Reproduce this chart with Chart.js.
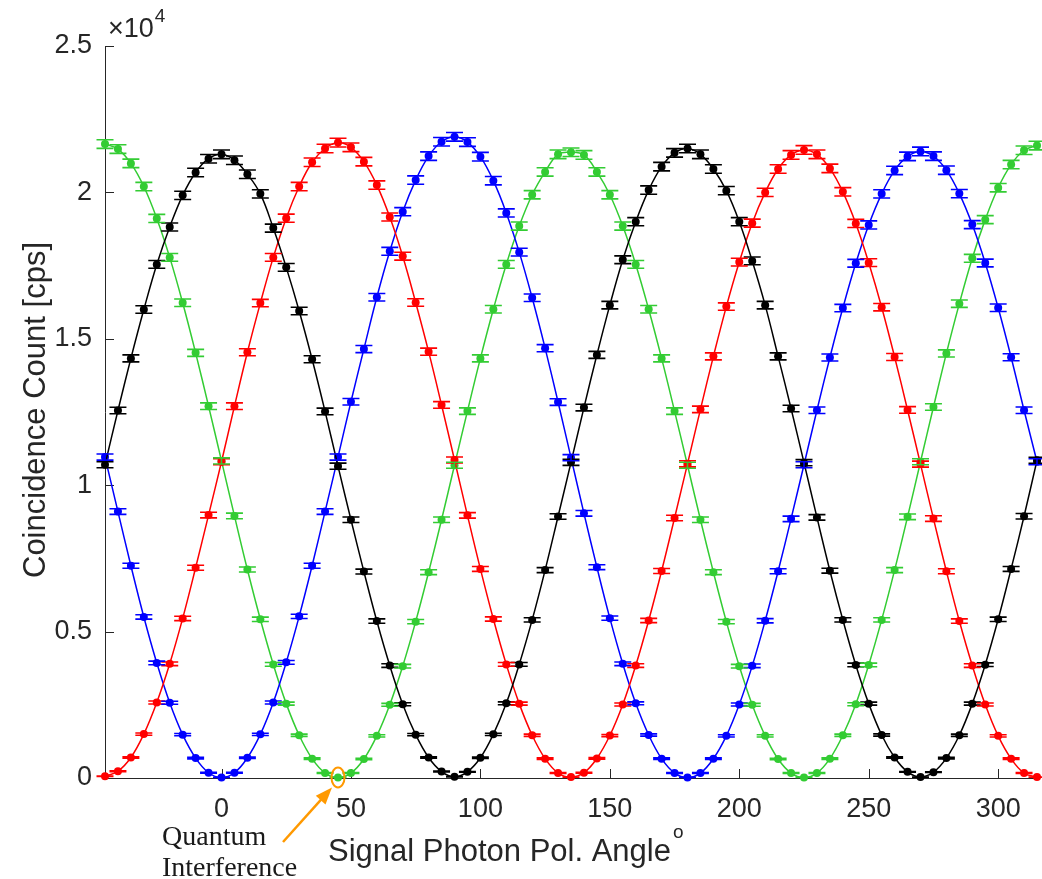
<!DOCTYPE html>
<html>
<head>
  <title>Coincidence Count vs Signal Photon Pol. Angle</title>
  <style>
    body { margin: 0; background: #fff; }
    canvas { display: block; }
  </style>
  <script src="https://cdn.jsdelivr.net/npm/chart.js"></script>
</head>
<body>
  <canvas id="chart" width="1042" height="879"></canvas>
  <script>
    // polarizer angle of the signal photon (degrees)
    const angles = [-45, -40, -35, -30, -25, -20, -15, -10, -5, 0, 5, 10, 15, 20, 25, 30, 35, 40, 45,
      50, 55, 60, 65, 70, 75, 80, 85, 90, 95, 100, 105, 110, 115, 120, 125, 130, 135, 140, 145,
      150, 155, 160, 165, 170, 175, 180, 185, 190, 195, 200, 205, 210, 215, 220, 225, 230, 235,
      240, 245, 250, 255, 260, 265, 270, 275, 280, 285, 290, 295, 300, 305, 310, 315];

    // coincidence counts [cps]
    const black = [10700, 12550, 14330, 16000, 17540, 18820, 19900, 20680, 21150, 21300, 21100, 20620, 19950,
      18780, 17440, 15950, 14300, 12520, 10650, 8820, 7050, 5360, 3840, 2520, 1480, 700, 220, 40,
      210, 690, 1490, 2550, 3880, 5400, 7100, 8930, 10780, 12650, 14450, 16150, 17700, 19000, 20080,
      20880, 21350, 21500, 21300, 20800, 20060, 19000, 17660, 16150, 14400, 12620, 10770, 8900, 7080,
      5400, 3860, 2540, 1470, 700, 210, 30, 200, 680, 1460, 2540, 3870, 5420, 7140, 8940, 10850];
    const red = [60, 230, 700, 1500, 2580, 3900, 5450, 7180, 8980, 10800, 12700, 14540, 16220, 17780,
      19120, 20200, 21030, 21500, 21700, 21540, 21050, 20250, 19160, 17820, 16240, 14560, 12740, 10860,
      8970, 7140, 5430, 3880, 2540, 1460, 660, 170, 30, 180, 670, 1450, 2510, 3840, 5380, 7070, 8880,
      10730, 12590, 14400, 16100, 17620, 18950, 20000, 20800, 21280, 21450, 21300, 20820, 20020, 18940,
      17600, 16080, 14380, 12570, 10720, 8860, 7060, 5360, 3840, 2510, 1440, 660, 170, 30];
    const blue = [10960, 9100, 7250, 5500, 3930, 2570, 1480, 680, 180, 20, 180, 690, 1490, 2580, 3950,
      5520, 7250, 9100, 10960, 12850, 14650, 16420, 17990, 19340, 20420, 21240, 21730, 21900, 21720,
      21220, 20400, 19300, 17960, 16400, 14680, 12840, 10940, 9040, 7200, 5460, 3900, 2550, 1470, 660,
      170, 20, 170, 660, 1440, 2510, 3830, 5370, 7060, 8850, 10700, 12560, 14360, 16050, 17580, 18890,
      19950, 20750, 21230, 21400, 21240, 20760, 19960, 18900, 17590, 16060, 14370, 12560, 10800];
    const green = [21650, 21480, 20990, 20200, 19110, 17780, 16230, 14520, 12700, 10830, 8950, 7120, 5420,
      3880, 2540, 1460, 660, 170, 20, 170, 650, 1440, 2500, 3820, 5340, 7030, 8820, 10680, 12530,
      14330, 16010, 17540, 18850, 19920, 20700, 21300, 21370, 21280, 20700, 19920, 18850, 17540, 16010,
      14330, 12530, 10680, 8820, 7030, 5340, 3820, 2500, 1440, 650, 170, 20, 170, 660, 1460, 2520,
      3860, 5400, 7100, 8920, 10800, 12670, 14500, 16200, 17750, 19070, 20160, 20950, 21440, 21600];

    const xTicks = [0, 50, 100, 150, 200, 250, 300];
    const yTicks = [0, 5000, 10000, 15000, 20000, 25000];
    const markAngle = 45; // quantum interference point on the green curve

    const axisColor = '#262626';
    const sans = '"Liberation Sans", Arial, Helvetica, sans-serif';

    function series(vals, color) {
      return {
        data: angles.map((a, i) => ({x: a, y: vals[i]})),
        borderColor: color,
        backgroundColor: color,
        borderWidth: 1.5,
        pointRadius: 4,
        pointBorderWidth: 0,
        tension: 0.4,
        clip: false
      };
    }

    // poisson error bars (sqrt of counts) with caps
    const errorBars = {
      id: 'errorBars',
      afterDatasetsDraw(chart) {
        const ctx = chart.ctx, ys = chart.scales.y;
        chart.data.datasets.forEach((ds, di) => {
          const meta = chart.getDatasetMeta(di);
          ctx.save();
          ctx.strokeStyle = ds.borderColor;
          ctx.lineWidth = 1.6;
          meta.data.forEach((pt, i) => {
            const v = ds.data[i].y, e = Math.sqrt(v);
            const y1 = ys.getPixelForValue(v + e), y2 = ys.getPixelForValue(v - e);
            ctx.beginPath();
            ctx.moveTo(pt.x, y1); ctx.lineTo(pt.x, y2);
            ctx.moveTo(pt.x - 8.5, y1); ctx.lineTo(pt.x + 8.5, y1);
            ctx.moveTo(pt.x - 8.5, y2); ctx.lineTo(pt.x + 8.5, y2);
            ctx.stroke();
          });
          ctx.restore();
        });
      }
    };

    // inward tick marks, exponent, axis titles and the annotation
    const decorations = {
      id: 'decorations',
      beforeDatasetsDraw(chart) {
        const ctx = chart.ctx, xs = chart.scales.x, ys = chart.scales.y, a = chart.chartArea;
        ctx.save();
        ctx.strokeStyle = axisColor;
        ctx.lineWidth = 1;
        ctx.beginPath();
        yTicks.forEach(v => {
          const p = Math.round(ys.getPixelForValue(v)) + 0.5;
          ctx.moveTo(a.left, p); ctx.lineTo(a.left + 9, p);
        });
        xTicks.forEach(v => {
          const p = Math.round(xs.getPixelForValue(v)) + 0.5;
          ctx.moveTo(p, a.bottom); ctx.lineTo(p, a.bottom - 9);
        });
        ctx.stroke();
        ctx.restore();
      },
      afterDraw(chart) {
        const ctx = chart.ctx, xs = chart.scales.x, ys = chart.scales.y;
        ctx.save();
        ctx.fillStyle = axisColor;
        ctx.textBaseline = 'alphabetic';
        ctx.textAlign = 'left';
        // x10^4
        ctx.font = '27px ' + sans;
        ctx.fillText('\u00d710', 108, 37);
        const w10 = ctx.measureText('\u00d710').width;
        ctx.font = '19px ' + sans;
        ctx.fillText('4', 108 + w10 + 1, 22);
        // x title with degree mark
        ctx.font = '31px ' + sans;
        const xt = 'Signal Photon Pol. Angle';
        ctx.fillText(xt, 328, 861);
        const wt = ctx.measureText(xt).width;
        ctx.font = '19px ' + sans;
        ctx.fillText('o', 328 + wt + 2, 838);
        // y title
        ctx.save();
        ctx.translate(45, 410);
        ctx.rotate(-Math.PI / 2);
        ctx.textAlign = 'center';
        ctx.font = '31px ' + sans;
        ctx.fillText('Coincidence Count [cps]', 0, 0);
        ctx.restore();
        // annotation text
        ctx.fillStyle = '#1a1a1a';
        ctx.font = '28px "Liberation Serif", "DejaVu Serif", serif';
        ctx.fillText('Quantum', 162, 845);
        ctx.fillText('Interference', 162, 876);
        // orange ellipse round the green minimum and arrow
        const i = angles.indexOf(markAngle);
        const cx = xs.getPixelForValue(markAngle), cy = ys.getPixelForValue(green[i]);
        ctx.strokeStyle = '#ff9900';
        ctx.fillStyle = '#ff9900';
        ctx.lineWidth = 2;
        ctx.beginPath();
        ctx.ellipse(cx, cy, 6.5, 10, 0, 0, Math.PI * 2);
        ctx.stroke();
        const tx = cx - 6, ty = cy + 10, sx = 283, sy = 842;
        const ang = Math.atan2(ty - sy, tx - sx);
        ctx.lineWidth = 2.5;
        ctx.beginPath();
        ctx.moveTo(sx, sy);
        ctx.lineTo(tx - 12 * Math.cos(ang), ty - 12 * Math.sin(ang));
        ctx.stroke();
        ctx.beginPath();
        ctx.moveTo(tx, ty);
        ctx.lineTo(tx - 17 * Math.cos(ang) + 6.5 * Math.sin(ang), ty - 17 * Math.sin(ang) - 6.5 * Math.cos(ang));
        ctx.lineTo(tx - 17 * Math.cos(ang) - 6.5 * Math.sin(ang), ty - 17 * Math.sin(ang) + 6.5 * Math.cos(ang));
        ctx.closePath();
        ctx.fill();
        ctx.restore();
      }
    };

    new Chart(document.getElementById('chart'), {
      type: 'line',
      data: {
        datasets: [
          series(black, '#000000'),
          series(red, '#ff0000'),
          series(blue, '#0000ff'),
          series(green, '#33cc33')
        ]
      },
      options: {
        responsive: false,
        animation: false,
        devicePixelRatio: 1,
        layout: {padding: {left: 0, top: 46, right: 5, bottom: 0}},
        plugins: {legend: {display: false}, tooltip: {enabled: false}},
        scales: {
          x: {
            type: 'linear',
            min: -45,
            max: 315,
            afterBuildTicks: s => { s.ticks = xTicks.map(v => ({value: v})); },
            afterFit: s => { s.height = 101; },
            grid: {display: false, drawTicks: false, tickLength: 0},
            border: {display: true, color: axisColor, width: 1},
            ticks: {color: axisColor, font: {size: 27, family: sans}, padding: 15, maxRotation: 0, autoSkip: false}
          },
          y: {
            min: 0,
            max: 25000,
            afterBuildTicks: s => { s.ticks = yTicks.map(v => ({value: v})); },
            afterFit: s => { s.width = 105; },
            grid: {display: false, drawTicks: false, tickLength: 0},
            border: {display: true, color: axisColor, width: 1},
            ticks: {color: axisColor, font: {size: 27, family: sans}, padding: 13, callback: v => String(v / 10000)}
          }
        }
      },
      plugins: [errorBars, decorations]
    });
  </script>
</body>
</html>
